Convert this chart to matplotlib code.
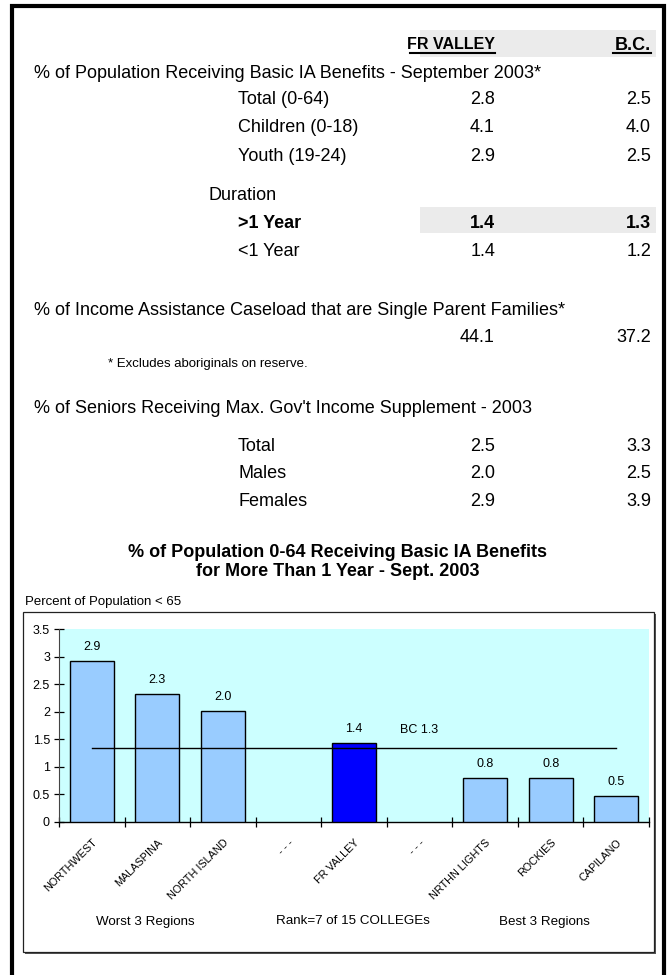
import matplotlib
matplotlib.use("Agg")
import matplotlib.pyplot as plt
from matplotlib.patches import Rectangle
from matplotlib.lines import Line2D
import numpy as np

plt.rcParams['font.family'] = ['Liberation Sans', 'DejaVu Sans']

# ---------------- data ----------------
col_headers = ["FR VALLEY", "B.C."]

ia_title = "% of Population Receiving Basic IA Benefits - September 2003*"
ia_labels = ["Total (0-64)", "Children (0-18)", "Youth (19-24)"]
ia_fr = [2.8, 4.1, 2.9]
ia_bc = [2.5, 4.0, 2.5]

dur_title = "Duration"
dur_labels = [">1 Year", "<1 Year"]
dur_fr = [1.4, 1.4]
dur_bc = [1.3, 1.2]

single_title = "% of Income Assistance Caseload that are Single Parent Families*"
single_fr = 44.1
single_bc = 37.2
footnote = "* Excludes aboriginals on reserve."

senior_title = "% of Seniors Receiving Max. Gov't Income Supplement - 2003"
senior_labels = ["Total", "Males", "Females"]
senior_fr = [2.5, 2.0, 2.9]
senior_bc = [3.3, 2.5, 3.9]

chart_title = "% of Population 0-64 Receiving Basic IA Benefits\nfor More Than 1 Year - Sept. 2003"
y_axis_label = "Percent of Population < 65"
regions = ["NORTHWEST", "MALASPINA", "NORTH ISLAND", "- - -", "FR VALLEY",
           "- - -", "NRTHN LIGHTS", "ROCKIES", "CAPILANO"]
rates = [2.92, 2.32, 2.02, np.nan, 1.44, np.nan, 0.80, 0.80, 0.47]
highlight = "FR VALLEY"
bc_rate = 1.34
bc_label = "BC 1.3"
yticks = [0, 0.5, 1, 1.5, 2, 2.5, 3, 3.5]
ytick_labels = ["0", "0.5", "1", "1.5", "2", "2.5", "3", "3.5"]
captions = ["Worst 3 Regions", "Rank=7 of 15 COLLEGEs", "Best 3 Regions"]

# ---------------- figure ----------------
W, H = 667, 975
fig = plt.figure(figsize=(W / 100, H / 100), dpi=100)
fig.patch.set_facecolor("white")

def fx(x):
    return x / W

def fy(y):
    return 1 - y / H

BODY = 13

def txt(x, y, s, size=BODY, ha="left", weight="normal", **kw):
    fig.text(fx(x), fy(y), s, fontsize=size, ha=ha, va="center_baseline",
             fontweight=weight, color="black", zorder=6, **kw)

def band(x0, y0, x1, y1):
    fig.patches.append(Rectangle((fx(x0), fy(y1)), fx(x1) - fx(x0), fy(y0) - fy(y1),
                                 transform=fig.transFigure, facecolor="#ebebeb",
                                 edgecolor="none", zorder=0))

# outer border (open at the bottom)
fig.patches.append(Rectangle((fx(12), fy(990)), fx(664) - fx(12), fy(6) - fy(990),
                             transform=fig.transFigure, fill=False,
                             edgecolor="black", linewidth=3.0, zorder=5))

# shaded bands
band(420, 30, 656, 57)
band(420, 207, 656, 233)

FRX, BCX = 495, 651
# header
txt(FRX, 43, col_headers[0], ha="right", weight="bold", size=11.5)
txt(BCX, 43, col_headers[1], ha="right", weight="bold", size=13)
fig.add_artist(Line2D([fx(410), fx(495)], [fy(53), fy(53)], color="black", lw=1.5))
fig.add_artist(Line2D([fx(613), fx(651)], [fy(53), fy(53)], color="black", lw=1.5))

LX = 238
# section 1
txt(34, 72, ia_title)
for i, (lab, a, b) in enumerate(zip(ia_labels, ia_fr, ia_bc)):
    y = 98 + i * 28
    txt(LX, y, lab)
    txt(FRX, y, f"{a:.1f}", ha="right")
    txt(BCX, y, f"{b:.1f}", ha="right")
txt(209, 193, dur_title)
for i, (lab, a, b) in enumerate(zip(dur_labels, dur_fr, dur_bc)):
    y = 222 + i * 28
    w = "bold" if i == 0 else "normal"
    txt(LX, y, lab, weight=w)
    txt(FRX, y, f"{a:.1f}", ha="right", weight=w)
    txt(BCX, y, f"{b:.1f}", ha="right", weight=w)

# section 2
txt(34, 309, single_title)
txt(FRX, 335, f"{single_fr:.1f}", ha="right")
txt(BCX, 335, f"{single_bc:.1f}", ha="right")
txt(108, 362, footnote, size=9.5)

# section 3
txt(34, 407, senior_title)
for i, (lab, a, b) in enumerate(zip(senior_labels, senior_fr, senior_bc)):
    y = 445 + i * 27
    txt(LX, y, lab)
    txt(FRX, y, f"{a:.1f}", ha="right")
    txt(BCX, y, f"{b:.1f}", ha="right")

# chart title
fig.text(fx(338), fy(562), chart_title, fontsize=13, fontweight="bold",
         ha="center", va="center", linespacing=1.1, zorder=6)
txt(25, 600, y_axis_label, size=9.5)

# chart frame with shadow
fig.patches.append(Rectangle((fx(25), fy(954)), fx(656) - fx(25), fy(614) - fy(954),
                             transform=fig.transFigure, facecolor="#555555",
                             edgecolor="none", zorder=1))
fig.patches.append(Rectangle((fx(23), fy(952)), fx(654) - fx(23), fy(612) - fy(952),
                             transform=fig.transFigure, facecolor="white",
                             edgecolor="#222222", linewidth=0.9, zorder=2))

# axes
ax = fig.add_axes([fx(59), fy(822), fx(649) - fx(59), fy(629) - fy(822)], zorder=3)
ax.set_facecolor("#ccffff")
x = np.arange(len(regions))
colors = ["#0000ff" if r == highlight else "#99ccff" for r in regions]
vals = np.array(rates, dtype=float)
ax.bar(x, vals, width=0.67, color=colors, edgecolor="black", linewidth=1.0, zorder=3)
for xi, v in zip(x, vals):
    if not np.isnan(v):
        ax.annotate(f"{v:.1f}", (xi, v), xytext=(0, 10), textcoords="offset points",
                    ha="center", va="center", fontsize=9)
ax.plot([x[0], x[-1]], [bc_rate, bc_rate], color="black", lw=1.0, zorder=4)
ax.text(x[5], 1.67, bc_label, ha="center", va="center", fontsize=9)

ax.set_xlim(-0.5, len(regions) - 0.5)
ax.set_ylim(0, 3.5)
ax.set_yticks(yticks)
ax.set_yticklabels(ytick_labels, fontsize=9)
ax.set_xticks(np.arange(len(regions) + 1) - 0.5)
ax.set_xticklabels([])
ax.set_xticks(x, minor=True)
ax.set_xticklabels(regions, minor=True, rotation=45, ha="right",
                   rotation_mode="anchor", fontsize=7.8)
ax.tick_params(axis="x", which="minor", length=0, pad=11)
ax.tick_params(axis="x", which="major", direction="inout", length=7, width=0.9)
ax.tick_params(axis="y", direction="inout", length=7, width=0.9, pad=3)
for s in ["top", "right"]:
    ax.spines[s].set_visible(False)
ax.spines["left"].set_color("#444444")
ax.spines["bottom"].set_linewidth(1.0)

# captions
for cx, cap in zip([145, 353, 544], captions):
    txt(cx, 920, cap, size=9.6, ha="center")

fig.savefig("out.png", dpi=100)
